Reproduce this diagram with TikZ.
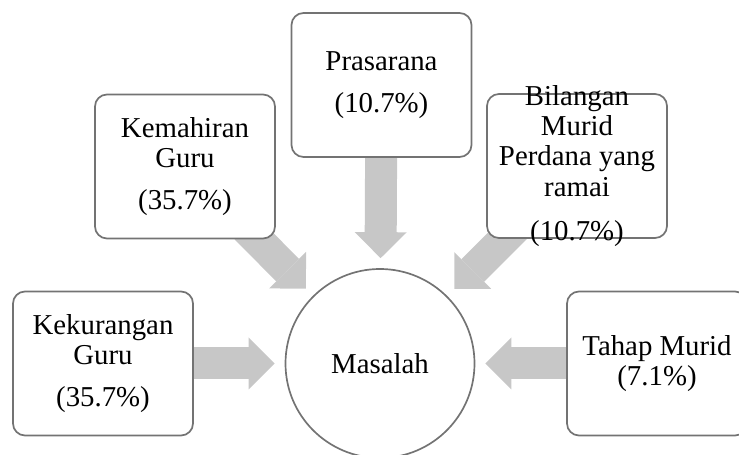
\documentclass[tikz,border=0pt]{standalone}
\usepackage{fontspec}
\setmainfont{Liberation Serif}
\usetikzlibrary{%
  arrows.meta,%
  positioning,%
  backgrounds%
}

\begin{document}
\begin{tikzpicture}
[line width=1.2pt, >={Triangle[length=0.65cm, width=1.3cm, line width'=0pt]},
factor/.style={rectangle, draw=black!55, fill=white, rounded corners=0.3cm, minimum width=4.5cm, minimum height=3.6cm, inner sep=0pt, align=center, font=\fontsize{20.5}{21.5}\selectfont},
factortext/.style={align=center, inner sep=0pt, font=\fontsize{20.5}{21.5}\selectfont},
problem/.style={circle, draw=black!55, fill=white, minimum size=4.725cm, inner sep=0pt, font=\fontsize{20.5}{21.5}\selectfont},
blockarrow/.style={->, draw=black!22, line width=0.8cm, shorten >=0.25cm}]

\useasboundingbox (0,0) rectangle (18.475,11.375);

\node[problem] (masalah) at (9.5,2.2875) {Masalah};

\node[factor] (kekurangan) at (2.575,2.2875) {Kekurangan\\Guru\\[0.3cm](35.7\%)};
\node[factor] (kemahiran) at (4.625,7.2125) {Kemahiran\\Guru\\[0.3cm](35.7\%)};
\node[factor] (prasarana) at (9.5375,9.25) {Prasarana\\[0.3cm](10.7\%)};
\node[factor, label={[factortext]center:Bilangan\\Murid\\Perdana yang\\ramai\\[0.35cm](10.7\%)}] (bilangan) at (14.425,7.225) {};
\node[factor] (tahap) at (16.425,2.2875) {Tahap Murid\\(7.1\%)};

% grey block arrows behind the boxes
\begin{scope}[on background layer]
  \draw[blockarrow] (kekurangan.center) -- (masalah);
  \draw[blockarrow] (kemahiran.center) -- (masalah);
  \draw[blockarrow] (prasarana.center) -- (masalah);
  \draw[blockarrow] (bilangan.center) -- (masalah);
  \draw[blockarrow] (tahap.center) -- (masalah);
\end{scope}
\end{tikzpicture}
\end{document}
